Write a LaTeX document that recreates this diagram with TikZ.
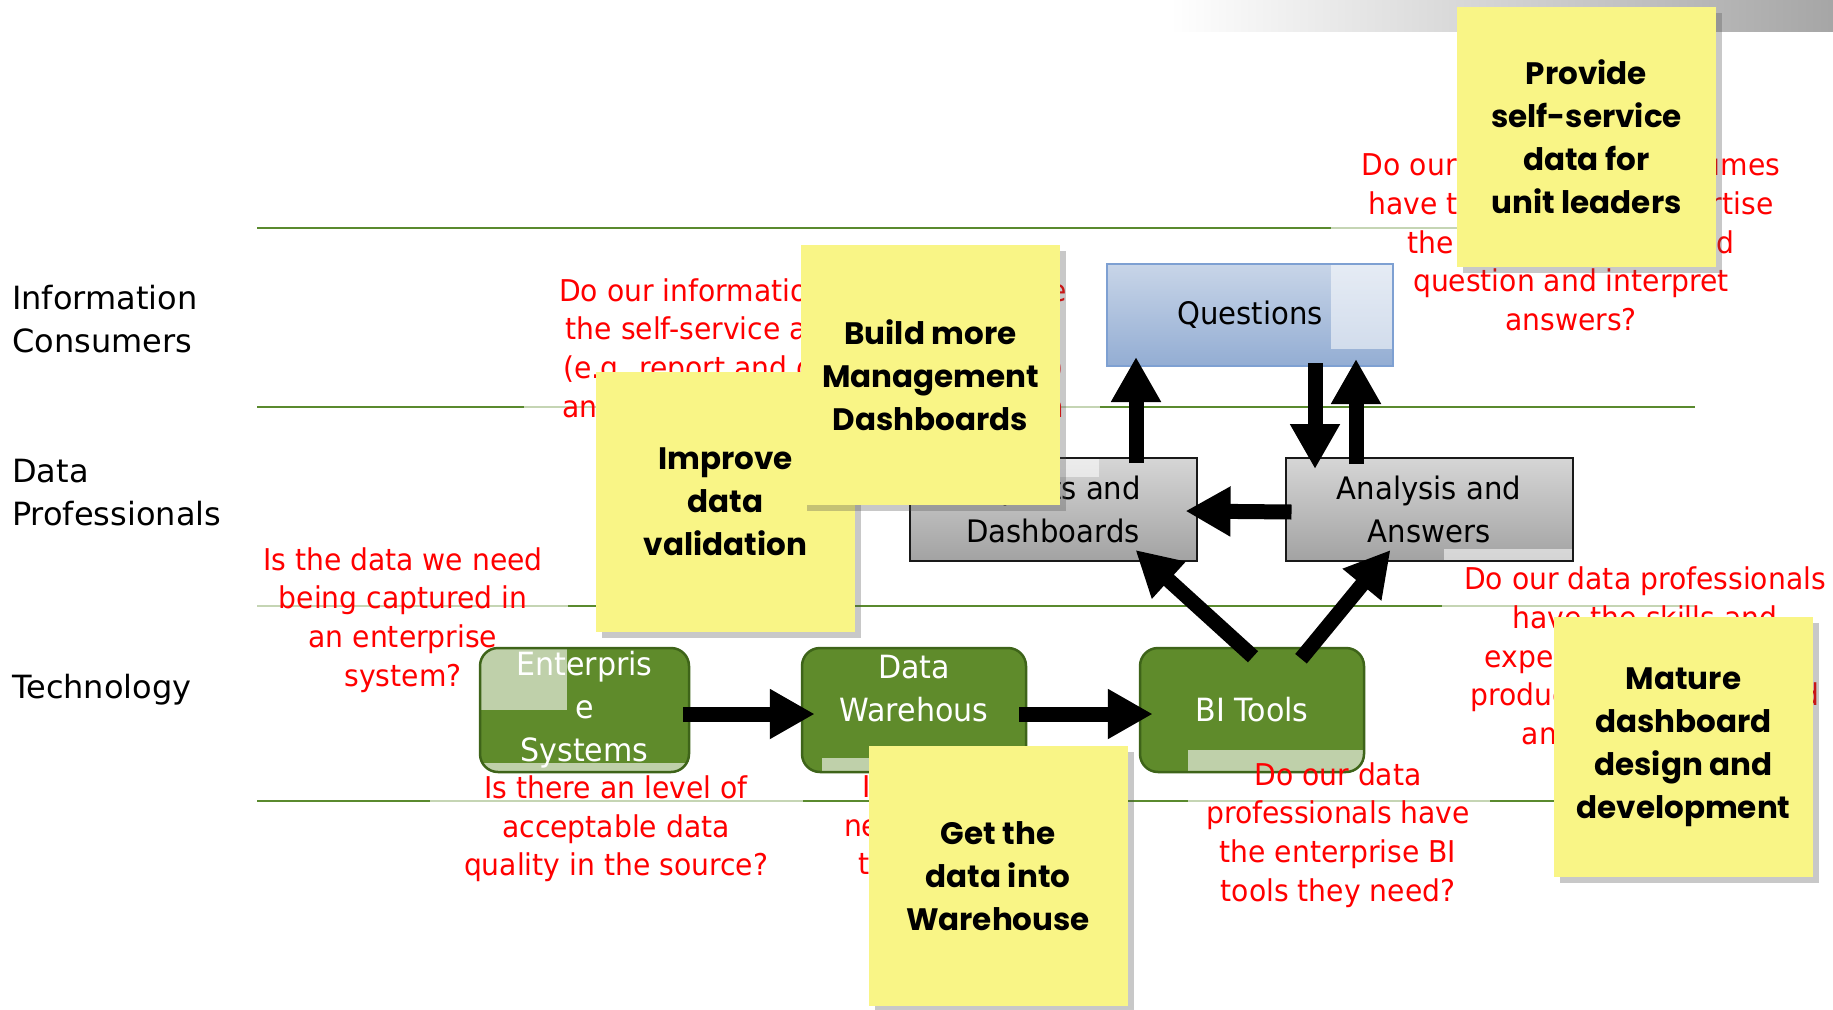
\documentclass[tikz,border=0pt]{standalone}
\usepackage{fontspec}
\setmainfont{DejaVu Sans}
\newfontfamily\qfont{DejaVu Sans}[FakeStretch=0.94]
\newfontfamily\notefont{Poppins}
\usetikzlibrary{arrows.meta,shadows}
\definecolor{noteyellow}{HTML}{F9F586}
\definecolor{linegreen}{HTML}{5A8A2E}
\definecolor{linelight}{HTML}{C5D5B4}
\definecolor{boxgreen}{HTML}{5F8B2B}
\definecolor{boxgreendark}{HTML}{3E6419}
\definecolor{graytop}{HTML}{D6D6D6}
\definecolor{graybot}{HTML}{A2A2A2}
\definecolor{bluetop}{HTML}{C8D5E8}
\definecolor{bluebot}{HTML}{93ADD3}
\definecolor{blueedge}{HTML}{7EA0D2}
\begin{document}
\begin{tikzpicture}[x=1pt,y=-1pt,
  redq/.style={text=red, font=\qfont\fontsize{30}{38.6}\selectfont, align=center, inner sep=0pt},
  rowlab/.style={font=\fontsize{32}{43}\selectfont, align=left, anchor=north west, inner sep=0pt},
  stickynote/.style={fill=noteyellow, minimum width=259pt, minimum height=260pt, inner sep=0pt,
     align=center, font=\notefont\bfseries\fontsize{31}{43}\selectfont,
     drop shadow={shadow xshift=6pt, shadow yshift=-6pt, fill=black!70, opacity=.3}},
  greybox/.style={draw=black!90, line width=2pt, top color=graytop, bottom color=graybot,
     minimum width=287pt, minimum height=103pt, inner sep=0pt, align=center,
     font=\qfont\fontsize{31}{43}\selectfont},
  bluebox/.style={draw=blueedge, line width=2pt, top color=bluetop, bottom color=bluebot,
     minimum width=286pt, minimum height=102pt, inner sep=0pt, align=center,
     font=\qfont\fontsize{31}{43}\selectfont},
  greenbox/.style={draw=boxgreendark, line width=2.5pt, fill=boxgreen, rounded corners=18pt,
     minimum height=124pt, inner sep=0pt, align=center, text=white,
     font=\qfont\fontsize{32}{43}\selectfont},
  overlay/.style={fill=white, opacity=.55, sharp corners},
  goverlay/.style={fill=white, opacity=.6, sharp corners},
  gline/.style={draw=linegreen, line width=2.5pt},
  lline/.style={draw=linelight, line width=2.5pt},
  bigarrow/.style={line width=15pt, -{Triangle[width=47pt,length=45pt]}}
]
\useasboundingbox (0,0) rectangle (1833,1009);
\fill[white] (0,0) rectangle (1833,1009);
% top gradient bar
\shade[left color=white, right color=black!35] (1170,0) rectangle (1833,31);

% swim lane lines
\draw[gline] (257,228) -- (1331,228);
\draw[lline] (1331,228) -- (1700,228);
\draw[gline] (257,407) -- (524,407);
\draw[lline] (524,407) -- (600,407);
\draw[lline] (1060,407) -- (1100,407);
\draw[gline] (1100,407) -- (1695,407);
\draw[lline] (257,606) -- (568,606);
\draw[gline] (568,606) -- (1442,606);
\draw[lline] (1442,606) -- (1695,606);
\draw[gline] (257,801) -- (430,801);
\draw[lline] (430,801) -- (803,801);
\draw[gline] (803,801) -- (1188,801);
\draw[lline] (1188,801) -- (1490,801);
\draw[gline] (1490,801) -- (1600,801);

% row labels
\node[rowlab] (lab1) at (12,285) {Information\\Consumers};
\node[rowlab] (lab2) at (12,459) {Data\\Professionals};
\node[rowlab] (lab3) at (12,674) {Technology};

% boxes
\node[bluebox, path picture={\fill[overlay] ([xshift=-62pt]path picture bounding box.north east) rectangle ([yshift=17pt]path picture bounding box.south east);}]
  (q) at (1250,315) {Questions};
\node[greybox, path picture={\fill[overlay] (path picture bounding box.north west) rectangle ([xshift=189pt,yshift=-19pt]path picture bounding box.north west);}]
  (rep) at (1053,509.5) {Reports and\\Dashboards};
\node[greybox, path picture={\fill[overlay] ([xshift=-129pt]path picture bounding box.south east) rectangle ([yshift=12pt]path picture bounding box.south east);}]
  (ana) at (1429,509.5) {Analysis and\\Answers};
\node[greenbox, minimum width=209pt, path picture={
    \fill[goverlay] (path picture bounding box.north west) rectangle ([xshift=87pt,yshift=-62pt]path picture bounding box.north west);
    \fill[goverlay] ([yshift=9pt]path picture bounding box.south west) rectangle (path picture bounding box.south east);}]
  (es) at (584.5,710) {Enterpris\\e\\Systems};
\node[greenbox, minimum width=224pt, path picture={
    \fill[goverlay] ([xshift=20pt,yshift=14pt]path picture bounding box.south west) rectangle ([xshift=-40pt]path picture bounding box.south east);}]
  (dw) at (914,710) {Data\\Warehous\\e};
\node[greenbox, minimum width=224pt, path picture={
    \fill[goverlay] ([xshift=48pt,yshift=22pt]path picture bounding box.south west) rectangle (path picture bounding box.south east);}]
  (bi) at (1252,710) {BI Tools};

% red questions
\node[redq] (r1) at (813,351) {Do our information consumers have\\the self-service access and BI tools\\(e.g. report and dashboard portals)\\and training they need to use them};
\node[redq] (r2) at (1571,242) {Do our information consumes\\have the skills and expertise\\the data to understand\\question and interpret\\answers?};
\node[redq] (r3) at (403,620) {Is the data we need\\being captured in\\an enterprise\\system?};
\node[redq] (r4) at (616,829) {Is there an level of\\acceptable data\\quality in the source?};
\node[redq] (r5) at (1645,656) {Do our data professionals\\have the skills and\\expertise necessary to\\produce dashboards and\\answers needed?};
\node[redq] (r6) at (1338,835) {Do our data\\professionals have\\the enterprise BI\\tools they need?};
\node[redq] (r7) at (963,825) {Is the data we\\need loaded into\\the warehouse};

% arrows
\draw[bigarrow] ([shift={(-7,4)}]es.east) -- ([shift={(14,4)}]dw.west);
\draw[bigarrow] ([shift={(-8,4)}]dw.east) -- ([shift={(14,4)}]bi.west);
\draw[bigarrow] ([shift={(1,10)}]bi.north) -- ([shift={(-62,-12)}]rep.south east);
\draw[bigarrow] ([shift={(49,12)}]bi.north) -- ([shift={(106,-12)}]ana.south west);
\draw[bigarrow] ([shift={(7,2.5)}]ana.west) -- ([shift={(-12,1.5)}]rep.east);
\draw[bigarrow] ([shift={(83,6)}]rep.north) -- ([shift={(-114,-10)}]q.south);
\draw[bigarrow] ([shift={(65,-4)}]q.south) -- ([shift={(-114,12)}]ana.north);
\draw[bigarrow] ([shift={(-73,7)}]ana.north) -- ([shift={(106,-8)}]q.south);

% sticky notes
\node[stickynote] (n3) at (725.5,501.5) {Improve\\data\\validation};
\node[stickynote] (n2) at (930.5,375) {Build more\\Management\\Dashboards};
\node[stickynote] (n1) at (1586.5,137) {Provide\\self-service\\data for\\unit leaders};
\node[stickynote] (n4) at (998,876) {Get the\\data into\\Warehouse};
\node[stickynote] (n5) at (1683.5,747) {Mature\\dashboard\\design and\\development};
\end{tikzpicture}
\end{document}
